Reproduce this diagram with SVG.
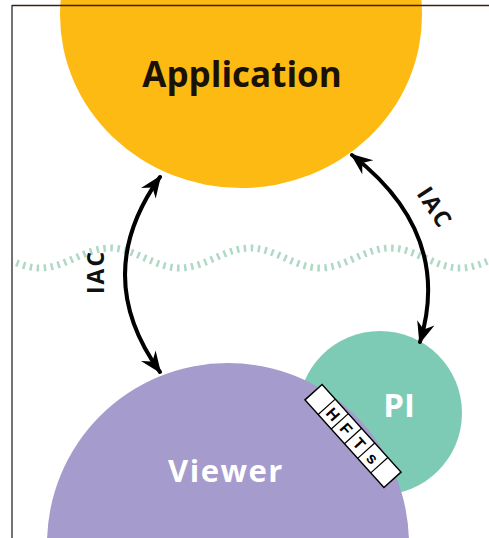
<svg xmlns="http://www.w3.org/2000/svg" width="489" height="538" viewBox="0 0 489 538">
<style>
.lbl{font-family:"Open Sans","Liberation Sans",sans-serif;font-weight:bold;text-anchor:middle}
.iac{font-family:"Open Sans","Liberation Sans",sans-serif;font-weight:bold;font-size:23px;letter-spacing:2px;fill:#111;text-anchor:middle}
.conn{fill:none;stroke:#000;stroke-width:4;stroke-linecap:round}
.cell{font-family:"Liberation Sans",sans-serif;font-weight:bold;font-size:16px;text-anchor:middle;fill:#000}
</style>
<defs>
<marker id="ah" markerUnits="userSpaceOnUse" markerWidth="28" markerHeight="24" viewBox="-24 -12 28 24" refX="0" refY="0" orient="auto-start-reverse">
<path d="M2,0 L-20,-9 L-13,0 L-20,9 Z" fill="#000"/>
</marker>
<clipPath id="frame"><rect x="13" y="0" width="476" height="538"/></clipPath>
</defs>
<rect width="489" height="538" fill="#fff"/>
<g id="wave" clip-path="url(#frame)">
<path d="M-30,248 C-5,248 15,268 40,268 S85,248 110,248 S155,268 180,268 S225,248 250,248 S295,268 320,268 S365,248 390,248 S435,268 460,268 S505,248 530,248" fill="none" stroke="#afd8c5" stroke-width="7" stroke-dasharray="2.5 4.5"/>
</g>
<g id="pi">
<circle cx="380" cy="413" r="82" fill="#7ecbb5"/>
<text class="lbl" x="399" y="417" font-size="33" fill="#fff">PI</text>
</g>
<g id="viewer">
<circle cx="228" cy="544" r="181" fill="#a59bcc"/>
<text class="lbl" x="226" y="482" font-size="31" letter-spacing="1.5" fill="#fff">Viewer</text>
</g>
<g id="application">
<ellipse cx="241" cy="15" rx="181" ry="173" fill="#fcba12"/>
<text class="lbl" x="242" y="87" font-size="35" fill="#1a1208">Application</text>
</g>
<g id="hfts" transform="translate(353,436) rotate(48)">
<rect x="-59" y="-11.5" width="118" height="23" fill="#fff" stroke="#000" stroke-width="1.5"/>
<path d="M-39.3,-11.5 V11.5 M-19.7,-11.5 V11.5 M0,-11.5 V11.5 M19.7,-11.5 V11.5 M39.3,-11.5 V11.5" stroke="#000" stroke-width="1.2"/>
<text class="cell" x="-29.5" y="6">H</text>
<text class="cell" x="-9.8" y="6">F</text>
<text class="cell" x="9.8" y="6">T</text>
<text class="cell" x="29.5" y="6">s</text>
</g>
<g id="connectors">
<path class="conn" d="M160,177 Q90,275 160,372" marker-start="url(#ah)" marker-end="url(#ah)"/>
<path class="conn" d="M352,155 C410,200 445,260 420,342" marker-start="url(#ah)" marker-end="url(#ah)"/>
<text class="iac" transform="translate(104,272) rotate(-90)">IAC</text>
<text class="iac" transform="translate(428,212) rotate(57)">IAC</text>
</g>
<g id="frame-lines">
<line x1="12" y1="5" x2="12" y2="538" stroke="#444" stroke-width="1.5"/>
<line x1="12" y1="5.5" x2="489" y2="5.5" stroke="#3a2012" stroke-width="1.5"/>
</g>
</svg>
